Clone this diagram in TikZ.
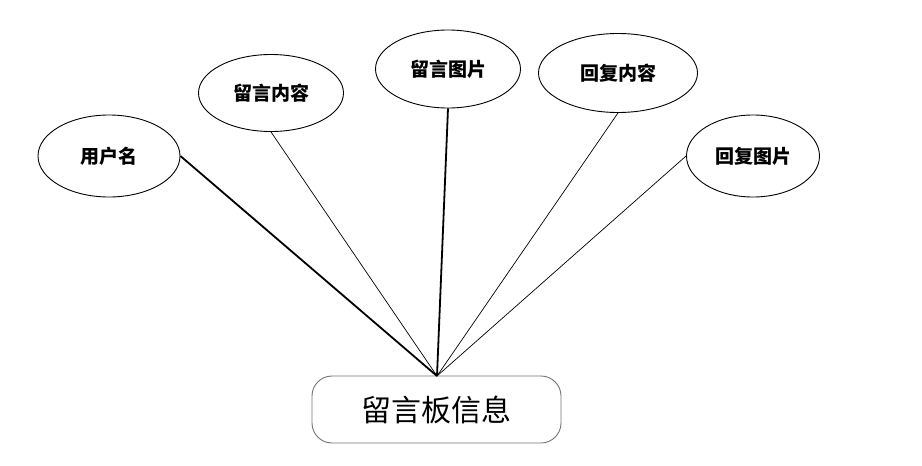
\documentclass[tikz,border=0pt]{standalone}
\usepackage{fontspec}
\newfontfamily\cjk{Noto Sans CJK SC}
\usetikzlibrary{shapes.geometric}
\begin{document}
\begin{tikzpicture}[x=1pt,y=-1pt,
  attr/.style={draw,ellipse,line width=0.9pt,inner sep=0pt,font=\cjk\bfseries\fontsize{19}{21}\selectfont},
  thin link/.style={line width=0.7pt},
  thick link/.style={line width=1.8pt},
  entity/.style={draw=black!55,line width=0.9pt,rounded corners=20pt,inner sep=0pt,font=\cjk\fontsize{30}{34}\selectfont}]
\useasboundingbox (0,0) rectangle (922,466);
\node[attr,minimum width=142pt,minimum height=82pt] (user) at (109,156) {用户名};
\node[attr,minimum width=145pt,minimum height=77pt] (msgc) at (271,93) {留言内容};
\node[attr,minimum width=145pt,minimum height=78pt] (msgp) at (448,69) {留言图片};
\node[attr,minimum width=159pt,minimum height=79pt] (repc) at (618,73) {回复内容};
\node[attr,minimum width=133pt,minimum height=82pt] (repp) at (753,156) {回复图片};
\node[entity,minimum width=249pt,minimum height=67pt] (board) at (436.5,409.5) {留言板信息};
\coordinate (hub) at (437,376);
\draw[thick link] (user.east) -- (hub);
\draw[thin link] (msgc.south) -- (hub);
\draw[thick link] (msgp.south) -- (hub);
\draw[thin link] (repc.south) -- (hub);
\draw[thin link] (repp.west) -- (hub);
\end{tikzpicture}
\end{document}
